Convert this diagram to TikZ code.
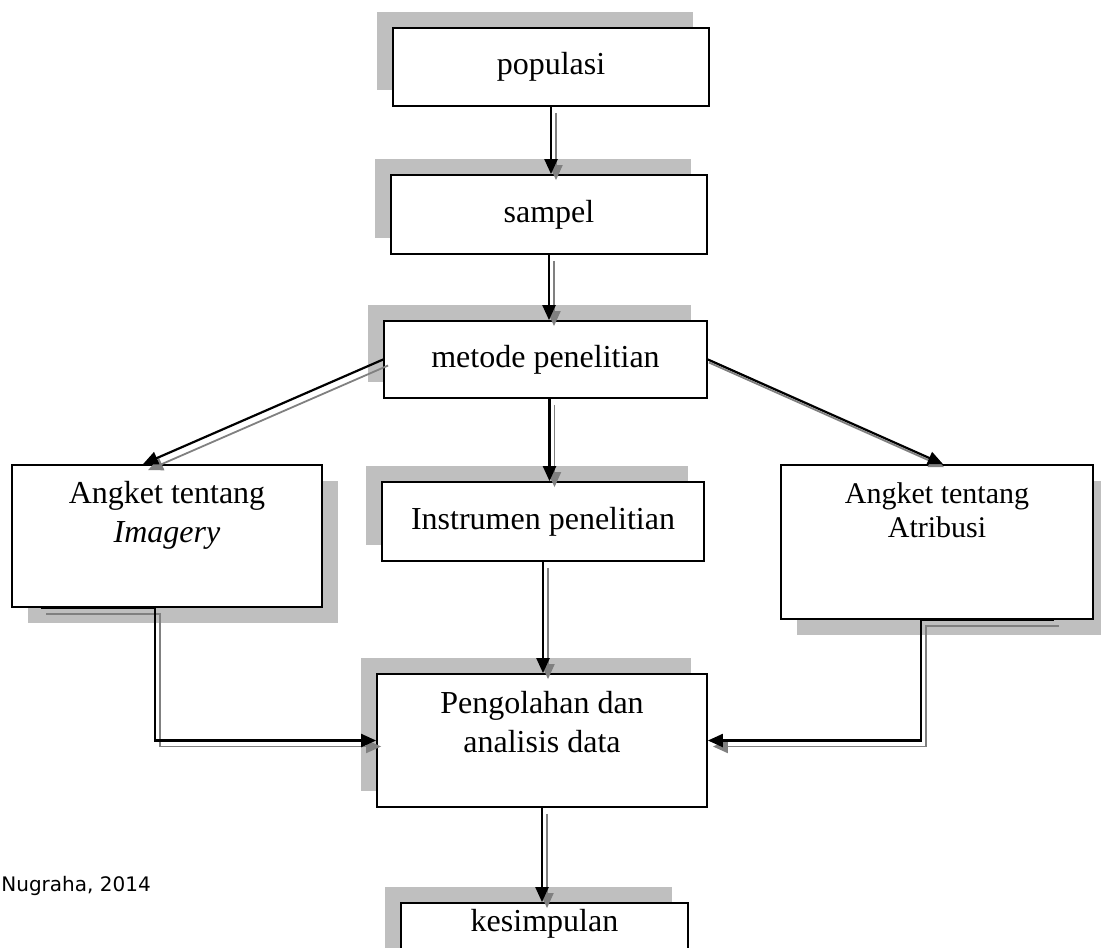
\documentclass[tikz,border=0pt]{standalone}
\usepackage{fontspec}
\setmainfont{Liberation Serif}
\newfontfamily\notefont{DejaVu Sans}
\usetikzlibrary{arrows.meta,shadows}
\definecolor{boxshadow}{RGB}{191,191,191}
\definecolor{lineshadow}{RGB}{128,128,128}

\begin{document}
\begin{tikzpicture}[x=0.5pt, y=-0.5pt,
		box/.style={draw, fill=white, line width=0.9pt, font=\fontsize{16}{19.5}\selectfont},
		boxup/.style={box, general shadow={fill=boxshadow, shadow xshift=-8pt, shadow yshift=8pt}},
		boxdown/.style={box, general shadow={fill=boxshadow, shadow xshift=8pt, shadow yshift=-8pt}},
		tall/.style={inner sep=0pt, align=flush center, text height=19pt},
		flow/.style={line width=1.1pt, -{Triangle[width=6.5pt,length=7.5pt]},
			preaction={draw=lineshadow, line width=0.9pt, transform canvas={shift={(#1)}}}},
		flow/.default={2.5pt,-3pt}
		]
		\clip (0,0) rectangle (1101,947);

		% --- kotak alur ---
		\node[boxup, minimum width=158pt, minimum height=39pt] (popul) at (551,67) {populasi};
		\node[boxup, minimum width=158pt, minimum height=39.5pt] (sampel) at (549,214.5) {sampel};
		\node[boxup, minimum width=161.5pt, minimum height=38.5pt] (metode) at (545.5,359.5) {metode penelitian};
		\node[boxdown, tall, text width=155pt, text depth=52pt] (imagery) at (167,536) {Angket tentang\\\textit{Imagery}};
		\node[boxup, minimum width=161pt, minimum height=39.5pt] (instr) at (543,521.5) {Instrumen penelitian};
		\node[boxdown, tall, text width=156pt, text depth=58pt, font=\fontsize{15}{17}\selectfont] (atrib) at (937,542) {Angket tentang\\Atribusi};
		\node[boxup, tall, text height=19.5pt, text width=165pt, text depth=47pt] (olah) at (542,740.5) {Pengolahan dan\\analisis data};
		\node[boxup, tall, text height=14pt, text width=143.5pt, text depth=30pt] (simpul) at (544.5,947) {kesimpulan};

		\node[anchor=base west, inner sep=0pt, font=\notefont\fontsize{10}{12}\selectfont] (sumber) at (1,891) {Nugraha, 2014};

		% --- panah ---
		\draw[flow] (popul.south) -- (popul.south |- sampel.north);
		\draw[flow] (sampel.south) -- (sampel.south |- metode.north);
		\draw[flow] ([xshift=2pt]metode.south) -- ([xshift=2pt]metode.south |- instr.north);
		\draw[flow] (metode.west) -- ([xshift=-12pt]imagery.north);
		\draw[flow={0.5pt,-1.5pt}] (metode.east) -- ([xshift=3pt]atrib.north);
		\draw[flow] (instr.south) -- (instr.south |- olah.north);
		\draw[flow] ([xshift=15pt]imagery.south west) -- ([xshift=-6pt]imagery.south) |- (olah.west);
		\draw[flow] ([xshift=-20pt]atrib.south east) -- ([xshift=-8pt]atrib.south) |- (olah.east);
		\draw[flow] (olah.south) -- (olah.south |- simpul.north);

	\end{tikzpicture}
\end{document}
